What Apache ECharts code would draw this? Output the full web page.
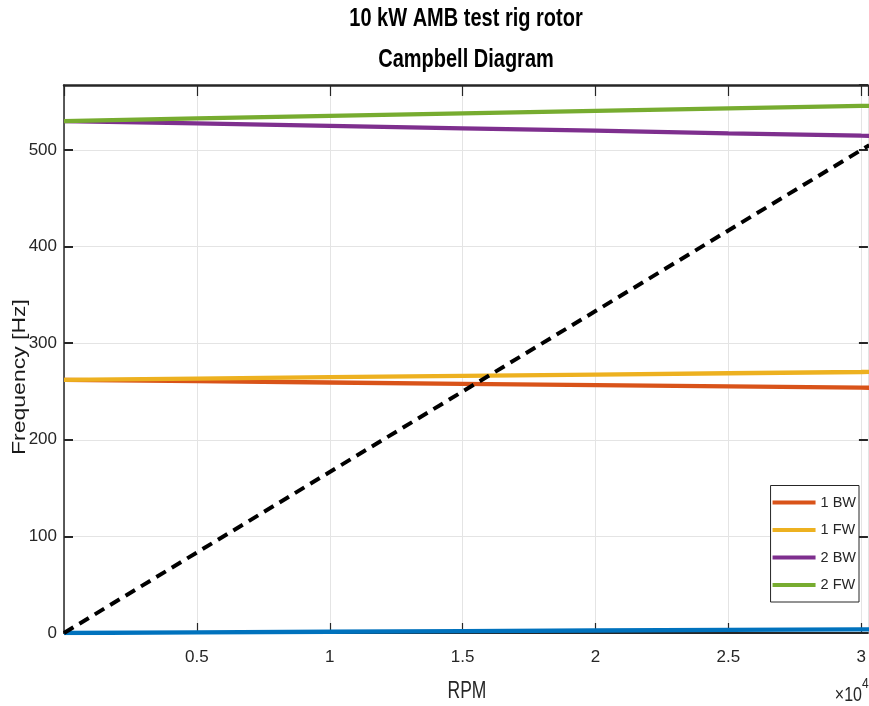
<!DOCTYPE html>
<html>
<head>
<meta charset="utf-8">
<script src="https://cdn.jsdelivr.net/npm/echarts@6/dist/echarts.min.js"></script>
<style>
  html, body { margin: 0; padding: 0; background: #fff; }
  #chart { width: 869px; height: 706px; }
</style>
</head>
<body>
<div id="chart"></div>
<script>
// ---- data ----
var rpm = [0, 5000, 10000, 15000, 20000, 25000, 30000, 30300];
var seriesNames = ['1 BW', '1 FW', '2 BW', '2 FW'];
var mode0 = [0, 0.7, 1.3, 2.0, 2.6, 3.2, 3.8, 3.8];
var bw1 = [262, 260.7, 259.3, 258, 256.6, 255.3, 254, 253.9];
var fw1 = [262, 263.4, 264.8, 266.2, 267.5, 268.9, 270.2, 270.3];
var bw2 = [530, 527.5, 525, 522.5, 520, 517.3, 514.8, 514.7];
var fw2 = [530, 532.7, 535.3, 538, 540.6, 543.1, 545.6, 545.7];
var oneX = [0, 83.3, 166.7, 250, 333.3, 416.7, 500, 505];
var xTickLabels = ['0.5', '1', '1.5', '2', '2.5', '3'];
var yTickLabels = ['0', '100', '200', '300', '400', '500'];

var XMAX = 30250, YMAX = 567.3;
var FONT = "'Liberation Sans', Arial, sans-serif";
var AX = '#262626';

function pairs(v) { return rpm.map(function (r, i) { return [r, v[i]]; }); }

var chart = echarts.init(document.getElementById('chart'), null, { renderer: 'canvas' });

function lineSeries(name, data, color, z) {
  return {
    name: name, type: 'line', data: pairs(data), showSymbol: false, symbol: 'none',
    clip: true, color: color, z: z,
    lineStyle: { color: color, width: 4.3 }
  };
}

var option = {
  animation: false,
  backgroundColor: '#ffffff',
  grid: { left: 64, top: 85, right: -2, bottom: 73, containLabel: false },
  xAxis: [{
    type: 'value', position: 'bottom', min: 0, max: XMAX, interval: 5000,
    axisLine: { show: true, onZero: false, lineStyle: { color: AX, width: 2 } },
    axisTick: { show: true, inside: true, length: 10, lineStyle: { color: AX, width: 1.2 } },
    splitLine: { show: true, lineStyle: { color: '#e4e4e4', width: 1 } },
    axisLabel: {
      show: true, margin: 16, color: AX, fontFamily: FONT, fontSize: 17,
      showMaxLabel: false, showMinLabel: false,
      formatter: function (v) {
        var idx = Math.round(v / 5000) - 1;
        return (v % 5000 === 0 && idx >= 0 && idx < xTickLabels.length) ? xTickLabels[idx] : '';
      }
    }
  }, {
    type: 'value', position: 'top', min: 0, max: XMAX, interval: 5000,
    axisLine: { show: true, onZero: false, lineStyle: { color: AX, width: 2.5 } },
    axisTick: { show: true, inside: true, length: 11, lineStyle: { color: AX, width: 1.2 } },
    splitLine: { show: false }, axisLabel: { show: false }
  }],
  yAxis: [{
    type: 'value', position: 'left', min: 0, max: YMAX, interval: 100,
    axisLine: { show: true, onZero: false, lineStyle: { color: AX, width: 1.5 } },
    axisTick: { show: true, inside: true, length: 9, lineStyle: { color: AX, width: 2 } },
    splitLine: { show: true, lineStyle: { color: '#e4e4e4', width: 1 } },
    axisLabel: {
      show: true, margin: 7, color: AX, fontFamily: FONT, fontSize: 17,
      showMaxLabel: false,
      formatter: function (v) {
        var idx = Math.round(v / 100);
        return (v % 100 === 0 && idx < yTickLabels.length) ? yTickLabels[idx] : '';
      }
    }
  }, {
    type: 'value', position: 'right', min: 0, max: YMAX, interval: 100,
    axisLine: { show: false, onZero: false },
    axisTick: { show: true, inside: true, length: 9, lineStyle: { color: AX, width: 2 } },
    splitLine: { show: false }, axisLabel: { show: false }
  }],
  legend: {
    data: seriesNames,
    orient: 'vertical', right: 10, top: 485.5,
    icon: 'rect', itemWidth: 43, itemHeight: 4, itemGap: 11.5,
    padding: [9, 3, 9, 2],
    borderColor: AX, borderWidth: 1, backgroundColor: '#ffffff',
    textStyle: { fontFamily: FONT, fontSize: 14.5, color: AX, lineHeight: 16 },
    selectedMode: false
  },
  graphic: [
    { type: 'text', x: 466, y: 19, scaleX: 0.8, z: 10,
      style: { text: '10 kW AMB test rig rotor', font: "bold 25px " + FONT,
        fill: '#000', textAlign: 'center', textVerticalAlign: 'middle', align: 'center', verticalAlign: 'middle' } },
    { type: 'text', x: 466, y: 60, scaleX: 0.8, z: 10,
      style: { text: 'Campbell Diagram', font: "bold 25px " + FONT,
        fill: '#000', textAlign: 'center', textVerticalAlign: 'middle', align: 'center', verticalAlign: 'middle' } },
    { type: 'text', x: 467, y: 692, scaleX: 0.76, z: 10,
      style: { text: 'RPM', font: "23px " + FONT,
        fill: AX, textAlign: 'center', textVerticalAlign: 'middle', align: 'center', verticalAlign: 'middle' } },
    { type: 'text', x: 20, y: 377, rotation: Math.PI / 2, scaleY: 0.8, z: 10,
      style: { text: 'Frequency [Hz]', font: "23px " + FONT,
        fill: '#1a1a1a', textAlign: 'center', textVerticalAlign: 'middle', align: 'center', verticalAlign: 'middle' } },
    { type: 'text', x: 862, y: 695, scaleX: 0.8, z: 10,
      style: { text: '\u00d710', font: "20px " + FONT,
        fill: AX, textAlign: 'right', textVerticalAlign: 'middle', align: 'right', verticalAlign: 'middle' } },
    { type: 'text', x: 862, y: 684, scaleX: 0.8, z: 10,
      style: { text: '4', font: "15px " + FONT,
        fill: AX, textAlign: 'left', textVerticalAlign: 'middle', align: 'left', verticalAlign: 'middle' } }
  ],
  series: [
    lineSeries('mode0', mode0, '#0072BD', 2),
    lineSeries('1 BW', bw1, '#D95319', 3),
    lineSeries('1 FW', fw1, '#EDB120', 3),
    lineSeries('2 BW', bw2, '#7E2F8E', 3),
    lineSeries('2 FW', fw2, '#77AC30', 3),
    {
      name: '1X', type: 'line', data: pairs(oneX), showSymbol: false, symbol: 'none',
      clip: true, color: '#000', z: 4,
      lineStyle: { color: '#000', width: 4, type: [11, 7] }
    }
  ]
};
chart.setOption(option);
</script>
</body>
</html>
